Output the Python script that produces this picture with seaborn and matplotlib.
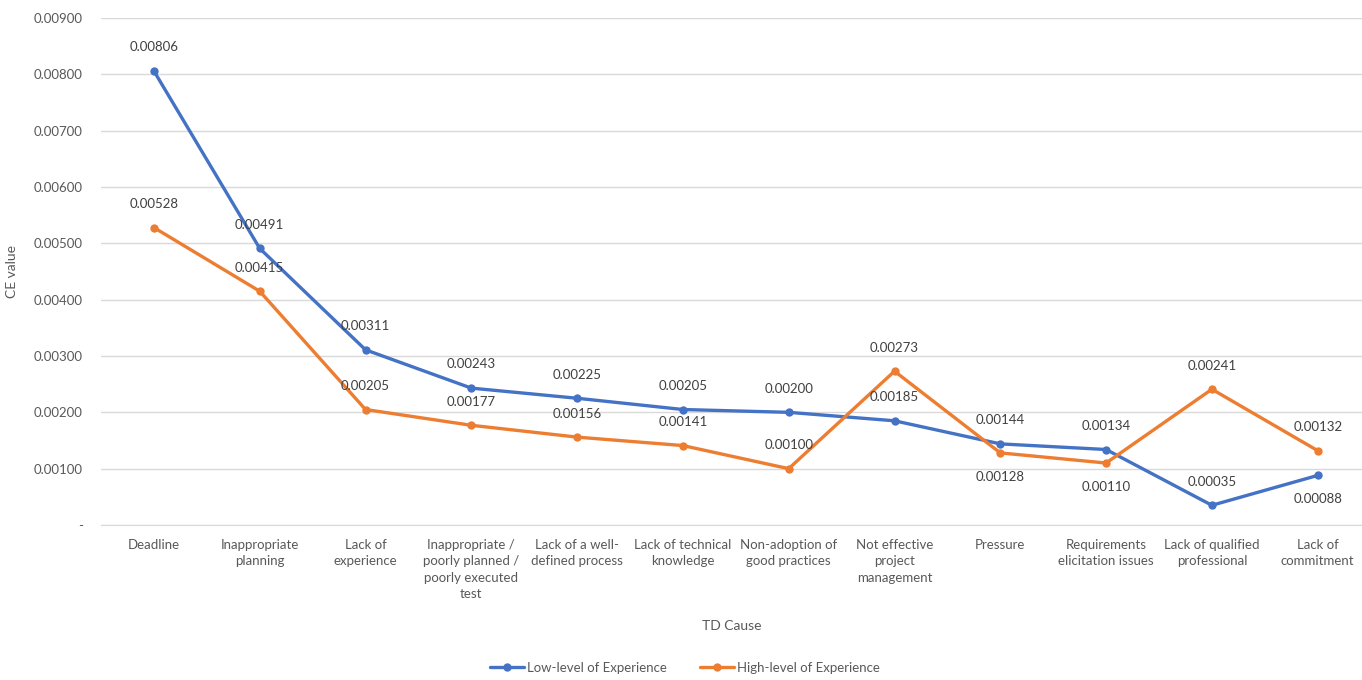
import pandas as pd
import numpy as np
import matplotlib
matplotlib.use("Agg")
import matplotlib.pyplot as plt
import seaborn as sns

causes = [
    "Deadline",
    "Inappropriate\nplanning",
    "Lack of\nexperience",
    "Inappropriate /\npoorly planned /\npoorly executed\ntest",
    "Lack of a well-\ndefined process",
    "Lack of technical\nknowledge",
    "Non-adoption of\ngood practices",
    "Not effective\nproject\nmanagement",
    "Pressure",
    "Requirements\nelicitation issues",
    "Lack of qualified\nprofessional",
    "Lack of\ncommitment",
]
low_exp = [0.00806, 0.00491, 0.00311, 0.00243, 0.00225, 0.00205,
           0.00200, 0.00185, 0.00144, 0.00134, 0.00035, 0.00088]
high_exp = [0.00528, 0.00415, 0.00205, 0.00177, 0.00156, 0.00141,
            0.00100, 0.00273, 0.00128, 0.00110, 0.00241, 0.00132]
series_names = ["Low-level of Experience", "High-level of Experience"]
# indexes whose value label sits under the point
low_below = [11]
high_below = [8, 9]

pos = np.arange(len(causes))
df = pd.DataFrame({
    "pos": np.concatenate([pos, pos]),
    "value": low_exp + high_exp,
    "series": [series_names[0]] * len(pos) + [series_names[1]] * len(pos),
})

sns.set_style("white")
plt.rcParams["font.family"] = ["Lato", "DejaVu Sans"]
text_col = "#595959"
colors = {series_names[0]: "#4472C4", series_names[1]: "#ED7D31"}

fig = plt.figure(figsize=(13.62, 6.8), dpi=100)
ax = fig.add_axes([101 / 1362, 1 - 525 / 680, 1 - 101 / 1362, (525 - 18) / 680])

sns.lineplot(data=df, x="pos", y="value", hue="series", palette=colors,
             marker="o", markersize=6, markeredgewidth=0, linewidth=2.4,
             sort=False, ax=ax)

for vals, below in [(low_exp, low_below), (high_exp, high_below)]:
    for i, v in enumerate(vals):
        dy = -17 if i in below else 17
        ax.annotate(f"{v:.5f}", (pos[i], v), xytext=(0, dy),
                    textcoords="offset points", ha="center", va="center",
                    fontsize=9.5, color="#404040")

ax.set_xlim(-0.5, (1362 - 101) / 105.8 - 0.5)
ax.set_ylim(0, 0.009)
yt = np.arange(0, 0.0091, 0.001)
ax.set_yticks(yt)
ax.set_yticklabels(["-"] + [f"{t:.5f}" for t in yt[1:]])
ax.set_xticks(pos)
ax.set_xticklabels(causes, linespacing=1.45)
ax.tick_params(axis="both", length=0, labelsize=9.5, labelcolor=text_col)
ax.tick_params(axis="y", pad=13)
ax.tick_params(axis="x", pad=10)
ax.grid(axis="y", color="#D9D9D9", linewidth=1)
ax.grid(axis="x", visible=False)
for s in ["top", "right", "left"]:
    ax.spines[s].set_visible(False)
ax.spines["bottom"].set_color("#D9D9D9")

ax.set_xlabel("TD Cause", fontsize=10, color=text_col, labelpad=14)
ax.set_ylabel("CE value", fontsize=10, color=text_col)
ax.yaxis.set_label_coords(18 / 1362, 0.5 * (1 - 18 / 680 + 1 - 525 / 680),
                          transform=fig.transFigure)

handles, labels = ax.get_legend_handles_labels()
ax.legend(handles, labels, loc="center", bbox_to_anchor=(685 / 1362, 1 - 668 / 680),
          bbox_transform=fig.transFigure, ncol=2, frameon=False,
          fontsize=9.5, labelcolor=text_col, handlelength=2.6,
          handletextpad=0.2, columnspacing=2.5)

fig.savefig("out.png", dpi=100)
